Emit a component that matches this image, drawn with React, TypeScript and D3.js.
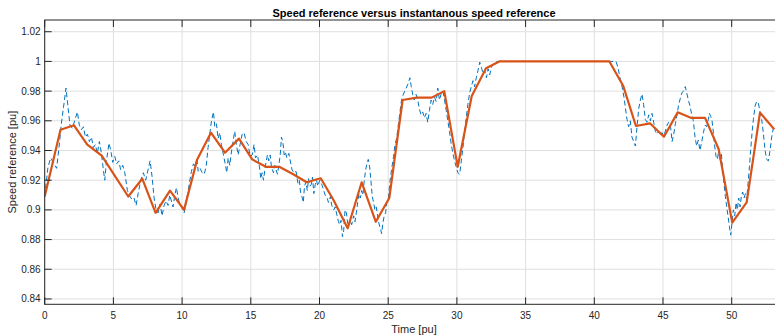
import React from "react";
import * as d3 from "d3";

// Reference speed (piecewise linear set-points)
const refTime = [0, 1.15, 2.13, 3.1, 4.15, 6.08, 7.1, 8.07, 9.12, 10.14, 11.1, 12.1, 13.12, 14.14, 15.1, 16.1, 17.07, 18.09, 19.07, 20.09, 21.0, 22.05, 23.07, 24.1, 25.08, 26.05, 27.07, 28.16, 29.08, 30.06, 31.08, 32.12, 33.09, 41.1, 42.11, 43.03, 44.05, 45.07, 46.07, 47.02, 48.06, 49.05, 50.04, 51.09, 52.06, 53.1];
const refSpeed = [0.909, 0.954, 0.957, 0.944, 0.9365, 0.909, 0.921, 0.898, 0.913, 0.9, 0.934, 0.952, 0.9385, 0.948, 0.934, 0.929, 0.929, 0.924, 0.9186, 0.9213, 0.907, 0.8876, 0.9186, 0.892, 0.908, 0.974, 0.9756, 0.9756, 0.98, 0.929, 0.9767, 0.9954, 1.0, 1.0, 0.9834, 0.9565, 0.9583, 0.9493, 0.9657, 0.962, 0.962, 0.941, 0.8914, 0.905, 0.9655, 0.9543];

// Instantaneous speed reference (noisy)
const instTime = [
  0, 0.24, 0.44, 0.68, 0.87, 1.04, 1.21, 1.41, 1.55, 1.7, 1.84, 2.01, 2.18, 2.38, 2.52, 2.67, 2.82, 2.96, 3.11, 3.25, 3.4, 3.54, 3.69, 3.83, 3.98, 4.13, 4.27, 4.37, 4.51, 4.68, 4.81, 4.95, 5.1, 5.24, 5.39, 5.53, 5.68, 5.83, 6.02, 6.21, 6.36, 6.5, 6.65, 6.8, 6.99, 7.18, 7.35, 7.52, 7.67, 7.82, 7.96, 8.11, 8.25, 8.4, 8.54, 8.69, 8.83,
  8.98, 9.1, 9.22, 9.34, 9.47, 9.59, 9.71, 9.83, 10.0, 10.15, 10.24, 10.39, 10.53, 10.68, 10.83, 10.97, 11.07, 11.17, 11.31, 11.46, 11.6, 11.75, 11.89, 12.04, 12.14, 12.28, 12.38, 12.5, 12.62, 12.74, 12.86, 13.01, 13.16, 13.25, 13.35, 13.47, 13.59, 13.74, 13.83, 13.93, 14.08, 14.22, 14.37, 14.51, 14.66, 14.81, 14.95, 15.1, 15.24, 15.34, 15.49, 15.63, 15.73, 15.82, 15.92, 16.07, 16.21, 16.31, 16.41, 16.5, 16.65, 16.75, 16.84, 16.94, 17.04, 17.14, 17.23, 17.33, 17.43, 17.52, 17.62, 17.77,
  18.0, 18.14, 18.29, 18.43, 18.53, 18.62, 18.72, 18.82, 18.91, 19.01, 19.11, 19.2, 19.3, 19.4, 19.49, 19.59, 19.69, 19.78, 19.88, 20.02, 20.17, 20.31, 20.41, 20.56, 20.65, 20.8, 20.89, 21.04, 21.14, 21.28, 21.38, 21.47, 21.57, 21.67, 21.76, 21.86, 21.96, 22.05, 22.15, 22.25, 22.34, 22.49, 22.58, 22.68, 22.78, 22.87, 22.97, 23.07, 23.16, 23.26, 23.36, 23.45, 23.55, 23.65, 23.74, 23.84, 23.94, 24.03, 24.13, 24.23, 24.32, 24.42, 24.52, 24.61, 24.71, 24.81, 24.9, 25.0, 25.14, 25.24, 25.39, 25.48, 25.63, 25.72, 25.87, 25.97, 26.11,
  26.45, 26.58, 26.68, 26.8, 26.9, 27.02, 27.15, 27.27, 27.39, 27.51, 27.63, 27.76, 27.88, 28.0, 28.12, 28.24, 28.37, 28.49, 28.61, 28.73, 28.85, 28.98, 29.1, 29.22, 29.34, 29.46, 29.59, 29.71, 29.83, 29.95, 30.07, 30.2, 30.32, 30.44, 30.56, 30.68, 30.8, 30.93, 31.05, 31.17, 31.29, 31.41, 31.54, 31.66, 31.78, 31.9, 32.02, 32.15, 32.27, 32.39, 32.51, 32.63, 32.9, 41.58,
  41.72, 41.87, 42.02, 42.16, 42.26, 42.38, 42.5, 42.62, 42.74, 42.87, 42.99, 43.11, 43.23, 43.35, 43.47, 43.59, 43.71, 43.84, 43.96, 44.08, 44.2, 44.32, 44.44, 44.56, 44.68, 44.81, 44.93, 45.05, 45.17, 45.29, 45.41, 45.53, 45.66, 45.78, 45.9, 46.02, 46.14, 46.26, 46.38, 46.5, 46.62, 46.75, 46.87,
  46.97, 47.09, 47.21, 47.33, 47.45, 47.57, 47.69, 47.82, 47.94, 48.06, 48.18, 48.3, 48.37, 48.47, 48.57, 48.67, 48.76, 48.86, 48.96, 49.05, 49.15, 49.25, 49.34, 49.44, 49.54, 49.64, 49.73, 49.83, 49.93, 50.02, 50.12, 50.22, 50.32, 50.41, 50.51, 50.61, 50.7, 50.8, 50.9, 51.0, 51.09, 51.19, 51.29, 51.38, 51.48, 51.58, 51.7, 51.82, 51.94, 52.06, 52.18, 52.3, 52.43, 52.55, 52.67, 52.79, 52.91, 53.03, 53.15,
];
const instSpeed = [
  0.909, 0.929, 0.935, 0.931, 0.928, 0.942, 0.958, 0.972, 0.982, 0.969, 0.957, 0.955, 0.96, 0.966, 0.957, 0.954, 0.956, 0.949, 0.951, 0.946, 0.949, 0.942, 0.944, 0.938, 0.946, 0.938, 0.927, 0.92, 0.934, 0.945, 0.94, 0.932, 0.936, 0.931, 0.933, 0.927, 0.93, 0.925, 0.913, 0.909, 0.907, 0.908, 0.903, 0.911, 0.92, 0.925, 0.92, 0.927, 0.933, 0.922, 0.908, 0.9, 0.898, 0.904, 0.896, 0.903, 0.906,
  0.903, 0.91, 0.906, 0.902, 0.91, 0.915, 0.908, 0.904, 0.901, 0.898, 0.902, 0.91, 0.918, 0.926, 0.931, 0.929, 0.935, 0.926, 0.928, 0.925, 0.924, 0.929, 0.942, 0.953, 0.96, 0.966, 0.956, 0.958, 0.948, 0.952, 0.944, 0.937, 0.93, 0.925, 0.935, 0.93, 0.939, 0.948, 0.953, 0.945, 0.937, 0.944, 0.951, 0.952, 0.946, 0.944, 0.936, 0.937, 0.944, 0.935, 0.937, 0.929, 0.921, 0.925, 0.92, 0.93, 0.937, 0.933, 0.937, 0.929, 0.925, 0.93, 0.927, 0.924, 0.93, 0.937, 0.949, 0.946, 0.937, 0.939, 0.935, 0.938,
  0.927, 0.925, 0.926, 0.918, 0.92, 0.912, 0.909, 0.905, 0.916, 0.919, 0.913, 0.921, 0.916, 0.917, 0.922, 0.911, 0.917, 0.92, 0.916, 0.92, 0.917, 0.913, 0.91, 0.908, 0.905, 0.909, 0.903, 0.9, 0.902, 0.896, 0.892, 0.89, 0.893, 0.882, 0.886, 0.9, 0.898, 0.891, 0.889, 0.893, 0.89, 0.896, 0.892, 0.898, 0.905, 0.911, 0.908, 0.913, 0.91, 0.92, 0.927, 0.931, 0.934, 0.929, 0.92, 0.909, 0.905, 0.9, 0.902, 0.896, 0.891, 0.888, 0.884, 0.891, 0.896, 0.898, 0.905, 0.907, 0.92, 0.927, 0.936, 0.943, 0.949, 0.956, 0.967, 0.974, 0.978,
  0.985, 0.989, 0.983, 0.977, 0.974, 0.978, 0.974, 0.968, 0.964, 0.966, 0.962, 0.965, 0.959, 0.967, 0.974, 0.971, 0.976, 0.973, 0.982, 0.974, 0.978, 0.98, 0.974, 0.967, 0.96, 0.953, 0.944, 0.938, 0.933, 0.929, 0.925, 0.924, 0.933, 0.942, 0.953, 0.962, 0.971, 0.979, 0.983, 0.987, 0.983, 0.989, 0.994, 0.9995, 0.996, 0.992, 0.994, 0.989, 0.995, 0.991, 0.996, 0.998, 1.0, 1.0,
  0.996, 0.989, 0.983, 0.976, 0.969, 0.961, 0.956, 0.96, 0.949, 0.946, 0.943, 0.956, 0.968, 0.974, 0.978, 0.971, 0.961, 0.959, 0.964, 0.96, 0.965, 0.959, 0.953, 0.951, 0.953, 0.95, 0.952, 0.95, 0.953, 0.957, 0.959, 0.958, 0.946, 0.951, 0.958, 0.964, 0.971, 0.975, 0.979, 0.98, 0.983, 0.978, 0.973,
  0.97, 0.964, 0.96, 0.949, 0.943, 0.947, 0.94, 0.946, 0.952, 0.957, 0.956, 0.961, 0.965, 0.963, 0.96, 0.952, 0.943, 0.936, 0.934, 0.94, 0.934, 0.938, 0.927, 0.918, 0.909, 0.902, 0.896, 0.889, 0.883, 0.891, 0.9, 0.896, 0.905, 0.9, 0.908, 0.902, 0.909, 0.912, 0.908, 0.911, 0.907, 0.918, 0.929, 0.94, 0.952, 0.961, 0.97, 0.973, 0.972, 0.966, 0.961, 0.952, 0.94, 0.934, 0.933, 0.94, 0.949, 0.955, 0.956,
];

const xTicks = [0, 5, 10, 15, 20, 25, 30, 35, 40, 45, 50];
const yTicks = [0.84, 0.86, 0.88, 0.9, 0.92, 0.94, 0.96, 0.98, 1.0, 1.02];

const W = 775;
const H = 336;
const left = 44.7;
const right = 784;
const top = 20;
const bottom = 304.3;
const font = "'Liberation Sans', Helvetica, Arial, sans-serif";
const axisColor = "#262626";

export default function App() {
  const x = d3.scaleLinear().domain([0, (right - left) / 13.74]).range([left, right]);
  const y = d3.scaleLinear().domain([0.8364, 1.0279]).range([bottom, top]);

  const refPts: [number, number][] = refTime.map((t, i) => [t, refSpeed[i]]);
  const instPts: [number, number][] = instTime.map((t, i) => [t, instSpeed[i]]);
  const line = d3.line<[number, number]>().x((d) => x(d[0])).y((d) => y(d[1]));
  const fmt = (v: number) => String(+v.toFixed(2));

  return (
    <svg width={W} height={H} style={{ position: "absolute", left: 0, top: 0, background: "#fff" }} fontFamily={font}>
      <defs>
        <clipPath id="plotArea">
          <rect x={left} y={top} width={right - left} height={bottom - top} />
        </clipPath>
      </defs>
      <rect x={left} y={top} width={right - left} height={bottom - top} fill="#fff" />
      {/* grid */}
      {xTicks.map((t) => (
        <line key={"gx" + t} x1={x(t)} x2={x(t)} y1={top} y2={bottom} stroke="#dfdfdf" strokeWidth={1} />
      ))}
      {yTicks.map((t) => (
        <line key={"gy" + t} x1={left} x2={right} y1={y(t)} y2={y(t)} stroke="#dfdfdf" strokeWidth={1} />
      ))}
      {/* series */}
      <g clipPath="url(#plotArea)">
        <path d={line(instPts) ?? ""} fill="none" stroke="#0072BD" strokeWidth={1} strokeDasharray="5 3" />
        <path d={line(refPts) ?? ""} fill="none" stroke="#D95319" strokeWidth={2.2} strokeLinejoin="round" />
      </g>
      {/* axes box */}
      <rect x={left} y={top} width={right - left} height={bottom - top} fill="none" stroke={axisColor} strokeWidth={1} />
      {xTicks.map((t) => (
        <g key={"tx" + t}>
          <line x1={x(t)} x2={x(t)} y1={bottom} y2={bottom - 7} stroke={axisColor} />
          <line x1={x(t)} x2={x(t)} y1={top} y2={top + 7} stroke={axisColor} />
          <text x={x(t)} y={bottom + 15} textAnchor="middle" fontSize={10} fill={axisColor}>
            {t}
          </text>
        </g>
      ))}
      {yTicks.map((t) => (
        <g key={"ty" + t}>
          <line x1={left} x2={left + 7} y1={y(t)} y2={y(t)} stroke={axisColor} />
          <text x={left - 4} y={y(t) + 3.5} textAnchor="end" fontSize={10} fill={axisColor}>
            {fmt(t)}
          </text>
        </g>
      ))}
      <text x={414} y={17} textAnchor="middle" fontSize={11} fontWeight="bold" fill="#000">
        Speed reference versus instantanous speed reference
      </text>
      <text x={414} y={333} textAnchor="middle" fontSize={11} fill={axisColor}>
        Time [pu]
      </text>
      <text transform={`translate(16,${(top + bottom) / 2}) rotate(-90)`} textAnchor="middle" fontSize={11} fill={axisColor}>
        Speed reference [pu]
      </text>
    </svg>
  );
}
